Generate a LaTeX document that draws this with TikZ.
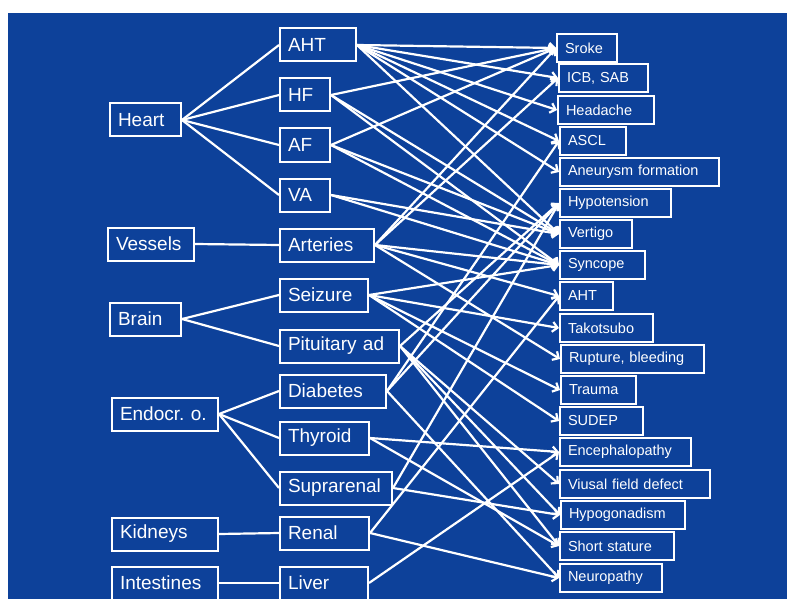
\documentclass[tikz,border=0pt]{standalone}
\usepackage{fontspec}
\setmainfont{Liberation Sans}
\frenchspacing
\usetikzlibrary{arrows.meta}
\definecolor{slideblue}{RGB}{13,65,154}
\tikzset{
  organ/.style={draw=white, line width=2pt, text=white, anchor=west,
    inner xsep=8pt, inner ysep=0pt, minimum height=33pt, align=left,
    font=\fontsize{19}{22}\selectfont},
  effect/.style={organ, minimum height=28pt, font=\fontsize{14.5}{17}\selectfont},
}
\begin{document}
\begin{tikzpicture}[x=1pt,y=-1pt]
      \useasboundingbox (0,0) rectangle (787,599);
      \fill[slideblue] (8,13) rectangle (787,599);

      % organs
      \begin{scope}[every node/.style={organ}]
        \node[text width=55pt] (heart)   at (109,120) {Heart};
        \node[text width=70pt] (vessels) at (107,244) {Vessels};
        \node[text width=55pt] (brain)   at (109,319) {Brain};
        \node[text width=90pt] (endocr)  at (111,414) {Endocr. o.};
        \node[text width=90pt] (kidneys) at (111,534) {Kidneys};
        \node[text width=90pt] (intest)  at (111,583) {Intestines};

        \node[text width=60pt]  (aht)   at (279,45)  {AHT};
        \node[text width=34pt]  (hf)    at (279,95)  {HF};
        \node[text width=34pt]  (af)    at (279,145) {AF};
        \node[text width=34pt]  (va)    at (279,195) {VA};
        \node[text width=78pt]  (art)   at (279,245) {Arteries};
        \node[text width=72pt]  (seiz)  at (279,295) {Seizure};
        \node[text width=103pt] (pit)   at (279,346) {Pituitary ad};
        \node[text width=90pt]  (diab)  at (279,391) {Diabetes};
        \node[text width=73pt]  (thyr)  at (279,438) {Thyroid};
        \node[text width=96pt]  (supra) at (279,488) {Suprarenal};
        \node[text width=73pt]  (renal) at (279,533) {Renal};
        \node[text width=72pt]  (liver) at (279,583) {Liver};
      \end{scope}

      % effects
      \begin{scope}[every node/.style={effect}]
        \node[text width=44pt]  (stroke) at (556,48)  {Sroke};
        \node[text width=73pt]  (icb)    at (558,78)  {ICB, SAB};
        \node[text width=80pt]  (head)   at (557,110) {Headache};
        \node[text width=50pt]  (ascl)   at (559,141) {ASCL};
        \node[text width=143pt] (aneur)  at (559,172) {Aneurysm formation};
        \node[text width=95pt]  (hypot)  at (559,203) {Hypotension};
        \node[text width=56pt]  (vert)   at (559,234) {Vertigo};
        \node[text width=69pt]  (sync)   at (559,265) {Syncope};
        \node[text width=37pt]  (ahtr)   at (559,296) {AHT};
        \node[text width=77pt]  (tako)   at (559,328) {Takotsubo};
        \node[text width=127pt] (rupt)   at (560,359) {Rupture, bleeding};
        \node[text width=59pt]  (trauma) at (560,390) {Trauma};
        \node[text width=67pt]  (sudep)  at (559,421) {SUDEP};
        \node[text width=115pt] (enceph) at (559,452) {Encephalopathy};
        \node[text width=134pt] (visual) at (559,484) {Viusal field defect};
        \node[text width=108pt] (hypog)  at (560,515) {Hypogonadism};
        \node[text width=98pt]  (short)  at (559,546) {Short stature};
        \node[text width=86pt]  (neuro)  at (559,578) {Neuropathy};
      \end{scope}

      \begin{scope}[every edge/.style={draw=white, line width=2.2pt}]
        \path (heart.east)   edge (aht.west);
        \path (heart.east)   edge (hf.west);
        \path (heart.east)   edge (af.west);
        \path (heart.east)   edge (va.west);
        \path (vessels.east) edge (art.west);
        \path (brain.east)   edge (seiz.west);
        \path (brain.east)   edge (pit.west);
        \path (endocr.east)  edge (diab.west);
        \path (endocr.east)  edge (thyr.west);
        \path (endocr.east)  edge (supra.west);
        \path (kidneys.east) edge (renal.west);
        \path (intest.east)  edge (liver.west);
      \end{scope}

      \begin{scope}[every edge/.style={draw=white, line width=2.2pt,
          -{Straight Barb[length=5pt,width=10pt]}}]
        \path (aht.east)   edge (stroke.west);
        \path (aht.east)   edge (icb.west);
        \path (aht.east)   edge (head.west);
        \path (aht.east)   edge (ascl.west);
        \path (aht.east)   edge (aneur.west);
        \path (aht.east)   edge (vert.west);
        \path (hf.east)    edge (stroke.west);
        \path (hf.east)    edge (vert.west);
        \path (hf.east)    edge (sync.west);
        \path (af.east)    edge (stroke.west);
        \path (af.east)    edge (vert.west);
        \path (af.east)    edge (sync.west);
        \path (va.east)    edge (vert.west);
        \path (va.east)    edge (sync.west);
        \path (art.east)   edge (stroke.west);
        \path (art.east)   edge (icb.west);
        \path (art.east)   edge (sync.west);
        \path (art.east)   edge (ahtr.west);
        \path (art.east)   edge (rupt.west);
        \path (seiz.east)  edge (sync.west);
        \path (seiz.east)  edge (tako.west);
        \path (seiz.east)  edge (trauma.west);
        \path (seiz.east)  edge (sudep.west);
        \path (pit.east)   edge (hypot.west);
        \path (pit.east)   edge (visual.west);
        \path (pit.east)   edge (hypog.west);
        \path (pit.east)   edge (short.west);
        \path (diab.east)  edge (ascl.west);
        \path (diab.east)  edge (hypot.west);
        \path (diab.east)  edge (neuro.west);
        \path (thyr.east)  edge (enceph.west);
        \path (thyr.east)  edge (short.west);
        \path (supra.east) edge (hypot.west);
        \path (supra.east) edge (hypog.west);
        \path (renal.east) edge (ahtr.west);
        \path (renal.east) edge (neuro.west);
        \path (liver.east) edge (enceph.west);
      \end{scope}

    \end{tikzpicture}
\end{document}
